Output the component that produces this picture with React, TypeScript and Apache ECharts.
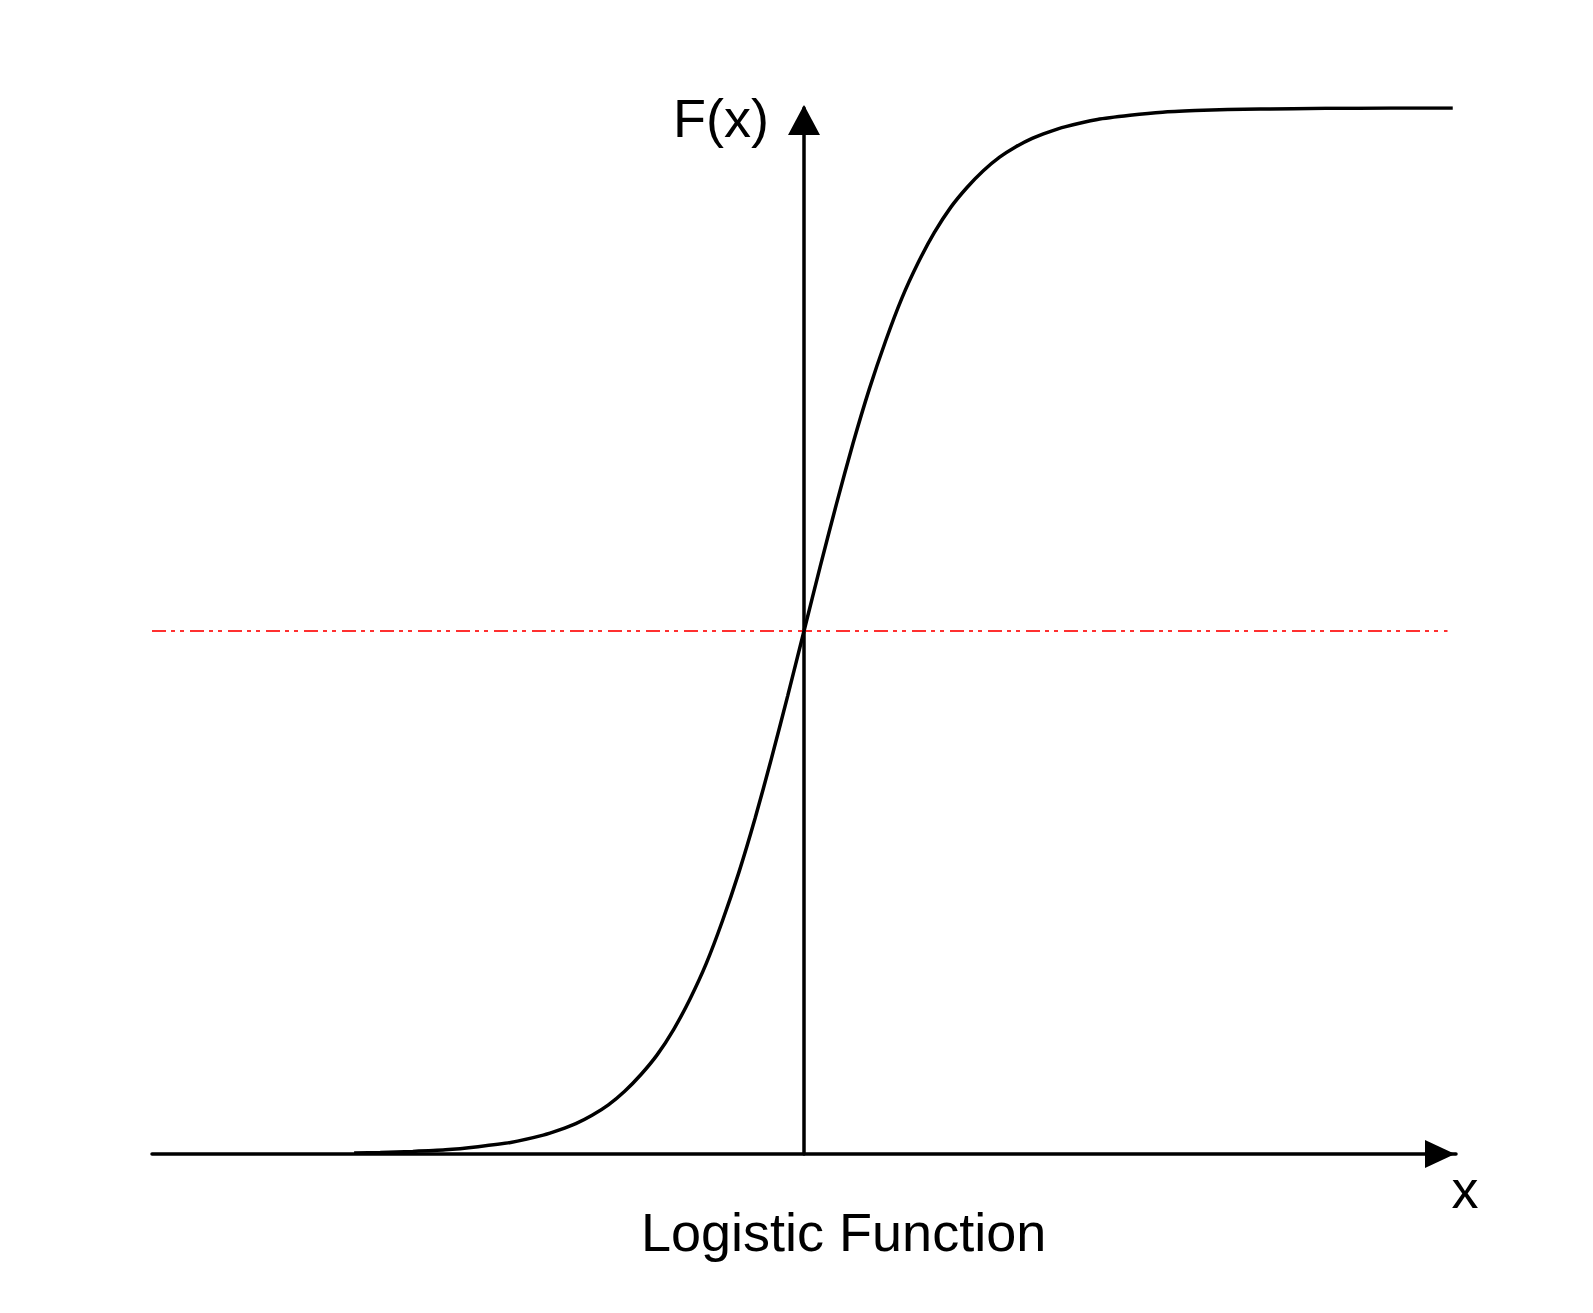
import React, { useEffect, useRef } from "react";
import * as echarts from "echarts";

// Logistic curve points (x, F(x))
const curveX = [-6.9, -6.5, -6, -5.5, -5, -4.5, -4, -3.75, -3.5, -3.25, -3, -2.75, -2.5, -2.25, -2, -1.75, -1.5, -1.25, -1, -0.75, -0.5, -0.25, 0, 0.25, 0.5, 0.75, 1, 1.25, 1.5, 1.75, 2, 2.25, 2.5, 2.75, 3, 3.25, 3.5, 3.75, 4, 4.5, 5, 5.5, 6, 6.5, 7, 8, 9, 9.95];
const curveY = [0.001, 0.0015, 0.0025, 0.004, 0.007, 0.011, 0.018, 0.023, 0.029, 0.037, 0.047, 0.06, 0.076, 0.095, 0.119, 0.148, 0.182, 0.223, 0.269, 0.321, 0.378, 0.438, 0.5, 0.562, 0.622, 0.679, 0.731, 0.777, 0.818, 0.852, 0.881, 0.905, 0.924, 0.94, 0.953, 0.963, 0.971, 0.977, 0.982, 0.989, 0.993, 0.996, 0.9975, 0.9985, 0.999, 0.9997, 0.9999, 1.0];

// Red dash-dot reference line at F = 0.5
const refX = [-10, 9.87];
const refY = [0.5, 0.5];

const xRange = [-10, 10];
const yRange = [0, 1];

const yName = "F(x)";
const xName = "x";
const caption = "Logistic Function";

const FONT = "'Liberation Sans', Arial, sans-serif";

export default function App() {
  const ref = useRef<HTMLDivElement>(null);
  useEffect(() => {
    if (!ref.current) return;
    const chart = echarts.init(ref.current, null, { renderer: "svg" });
    chart.setOption({
      animation: false,
      backgroundColor: "#ffffff",
      title: {
        text: caption,
        left: 636,
        top: 1200,
        textStyle: { fontFamily: FONT, fontSize: 54, fontWeight: "normal", color: "#000" },
      },
      grid: { left: 152, right: 137, top: 108, bottom: 159, outerBoundsMode: "none", containLabel: false },
      xAxis: {
        type: "value",
        min: xRange[0],
        max: xRange[1],
        name: xName,
        nameLocation: "end",
        nameGap: 9,
        nameTextStyle: {
          fontFamily: FONT,
          fontSize: 54,
          color: "#000",
          align: "center",
          verticalAlign: "top",
          padding: [8, 0, 0, 0],
        },
        axisLine: {
          onZero: true,
          symbol: ["none", "triangle"],
          symbolSize: [28, 30],
          symbolOffset: [0, -16],
          lineStyle: { color: "#000", width: 3.5 },
        },
        axisTick: { show: false },
        axisLabel: { show: false },
        splitLine: { show: false },
      },
      yAxis: {
        type: "value",
        min: yRange[0],
        max: yRange[1],
        name: yName,
        nameLocation: "end",
        nameGap: -10,
        nameTextStyle: {
          fontFamily: FONT,
          fontSize: 54,
          color: "#000",
          align: "right",
          verticalAlign: "middle",
          padding: [0, 35, 0, 0],
        },
        axisLine: {
          onZero: true,
          symbol: ["none", "triangle"],
          symbolSize: [32, 30],
          symbolOffset: [0, -12],
          lineStyle: { color: "#000", width: 3.5 },
        },
        axisTick: { show: false },
        axisLabel: { show: false },
        splitLine: { show: false },
      },
      series: [
        {
          type: "line",
          data: refX.map((x, i) => [x, refY[i]]),
          showSymbol: false,
          symbol: "none",
          lineStyle: { color: "#ff3030", width: 2, type: [14, 5, 4, 5, 4, 6] },
          z: 1,
        },
        {
          type: "line",
          data: curveX.map((x, i) => [x, curveY[i]]),
          showSymbol: false,
          symbol: "none",
          smooth: 0.25,
          lineStyle: { color: "#000", width: 3.5 },
          z: 3,
        },
      ],
    });
    return () => chart.dispose();
  }, []);
  return (
    <div
      ref={ref}
      style={{ position: "absolute", left: 0, top: 0, width: "1593px", height: "1313px" }}
    />
  );
}
